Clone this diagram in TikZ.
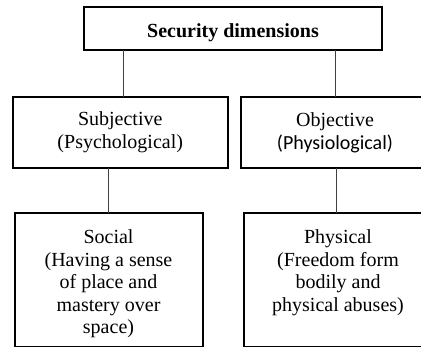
\documentclass[tikz,border=0pt]{standalone}
\usepackage{fontspec}
\setmainfont{Liberation Serif}
\newfontfamily\calibrifont{Carlito}
\begin{document}
\begin{tikzpicture}[x=1pt,y=-1pt,
  box/.style={draw=black, line width=2pt, inner sep=0pt, outer sep=0pt, align=center, font=\fontsize{20}{22.6}\selectfont},
  txt/.style={inner sep=0pt, outer sep=0pt, align=center, font=\fontsize{20}{22.6}\selectfont},
  link/.style={draw=black!75, line width=1pt}]
\useasboundingbox (0,0) rectangle (421,347);
\clip (0,0) rectangle (421,347);
% boxes
\node[box, minimum width=298pt, minimum height=43pt, text height=21.3pt, text depth=4.3pt,
      font=\fontsize{20}{22.6}\selectfont\bfseries] (top) at (233,29) {Security dimensions};
\node[box, minimum width=214.5pt, minimum height=71pt] (sub) at (120.25,132.5) {Subjective\\(Psychological)};
\node[box, minimum width=188pt, minimum height=71pt] (obj) at (335,132.5) {Objective\\{\calibrifont (Physiological)}};
\node[box, minimum width=188pt, minimum height=134pt] (social) at (108.5,280) {};
\node[box, minimum width=188pt, minimum height=134pt] (phys) at (338,280) {};
\node[txt, anchor=north] (socialtext) at ([yshift=-16.6pt]social.north)
  {Social\\(Having a sense\\of place and\\mastery over\\space)};
\node[txt, anchor=north] (phystext) at ([yshift=-16.6pt]phys.north)
  {Physical\\(Freedom form\\bodily and\\physical abuses)};
% connectors
\draw[link] ([xshift=3.5pt]sub.north |- top.south) -- ([xshift=3.5pt]sub.north);
\draw[link] ([xshift=0.7pt]obj.north |- top.south) -- ([xshift=0.7pt]obj.north);
\draw[link] (social.north |- sub.south) -- (social.north);
\draw[link] ([xshift=1pt]obj.south) -- ([xshift=1pt]obj.south |- phys.north);
\end{tikzpicture}
\end{document}
